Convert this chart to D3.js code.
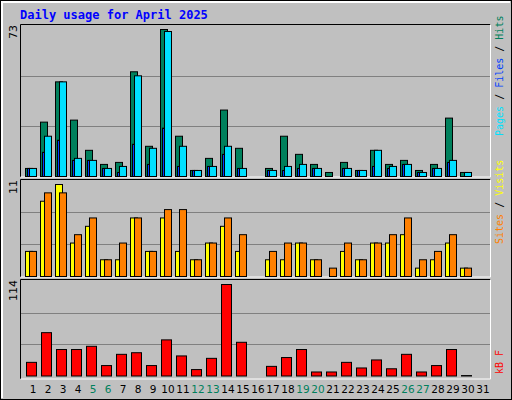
<!DOCTYPE html>
<html><head><meta charset="utf-8">
<script src="https://cdn.jsdelivr.net/npm/d3@7"></script>
<style>body{margin:0;background:#fff}</style></head><body>
<script>
const days = d3.range(1,32).map(String);
const weekend = [5,6,12,13,19,20,26,27];
const hits  = [4,27,47,28,13,6,7,52,15,73,20,3,9,33,14,0,4,20,11,6,2,7,3,13,6,8,3,6,29,2,0];
const files = [4,20,47,9,8,4,5,50,14,72,15,3,5,15,4,0,3,5,6,4,0,4,3,13,5,6,2,4,8,2,0];
const pages = [4,12,18,8,8,4,2,16,6,24,5,3,5,11,4,0,3,3,4,4,0,4,3,5,4,6,2,4,7,0,0];
const visits= [3,9,11,4,6,2,2,7,3,7,3,2,4,6,3,0,2,2,4,2,0,3,2,4,4,5,1,2,4,1,0];
const sites = [3,10,10,5,7,2,4,7,3,8,8,2,4,7,5,0,3,4,4,2,1,4,2,4,5,7,2,3,5,1,0];
const kbytes= [17,54,33,33,37,13,27,29,13,45,25,8,22,114,42,0,12,23,33,5,5,17,10,20,9,27,5,13,33,0.5,0];
const maxLabels = ["73","11","114"];

const W=512,H=400;
const svg=d3.select("body").append("svg").attr("width",W).attr("height",H);
svg.append("rect").attr("x",0).attr("y",0).attr("width",W).attr("height",H).attr("fill","#c0c0c0");
svg.append("rect").attr("x",0.5).attr("y",0.5).attr("width",W-1).attr("height",H-1).attr("fill","none").attr("stroke","#000");
svg.append("path").attr("d",`M2,${H-2}V2H${W-2}`).attr("stroke","#fff").attr("stroke-width",2).attr("fill","none");
svg.append("text").attr("x",20).attr("y",19).text("Daily usage for April 2025")
  .attr("font-family","DejaVu Sans Mono").attr("font-weight","bold").attr("font-size",12).attr("fill","#0000ff");

const x=d3.scaleBand().domain(days).range([26,26+31*15]);
const L=20.5,R=490.5;
const panels=[{t:24,b:177},{t:179,b:277},{t:279,b:379}];
panels.forEach(p=>{
  svg.append("path").attr("d",`M${L},${p.b}V${p.t+0.5}H${R}`).attr("stroke","#000").attr("fill","none");
  svg.append("path").attr("d",`M${R},${p.t+0.5}V${p.b}H${L}`).attr("stroke","#fff").attr("fill","none");
});
function grid(y0,y1){[1/3,2/3].forEach(f=>{const y=Math.round(y0-(y0-y1)*f)+0.5;
  svg.append("line").attr("x1",L+0.5).attr("x2",R-0.5).attr("y1",y).attr("y2",y).attr("stroke","#808080");});}

function bars(data,scale,dx,w,color){
  const pts=data.map((v,i)=>({v,day:days[i]})).filter(p=>p.v>0);
  svg.append("g").selectAll("rect").data(pts).join("rect")
   .attr("x",p=>x(p.day)+dx+0.5).attr("width",w)
   .attr("y",p=>scale(p.v)+0.5).attr("height",p=>Math.max(0,scale(0)-scale(p.v)))
   .attr("fill",p=>typeof color==="function"?color(p.v):color).attr("stroke","#000");
}
// top panel
const y1=d3.scaleLinear().domain([0,73]).range([176,29]);
grid(176.7,25);
bars(hits,y1,-1,7,"#00805c");
bars(files,y1,3,7,"#00e0ff");
bars(pages,y1,1,2,"#0040ff");
// middle
const y2=d3.scaleLinear().domain([0,11]).range([276,184]);
grid(276,180);
bars(visits,y2,-1,7,"#ffff00");
bars(sites,y2,3,7,"#ff8000");
// bottom
const y3=d3.scaleLinear().domain([0,114]).range([375.5,284]);
grid(376,281);
bars(kbytes,y3,0,10,v=>v<1?"#000":"#ff0000");

// day labels
svg.append("g").selectAll("text").data(days).join("text")
  .attr("x",d=>x(d)+7).attr("y",393).attr("text-anchor","middle")
  .attr("font-family","DejaVu Sans").attr("font-size",10.5)
  .attr("fill",d=>weekend.includes(+d)?"#00805c":"#000").text(d=>d);

// left max labels
const ly=[[17,24],[17,179],[17,279]];
maxLabels.forEach((t,i)=>{
  svg.append("text").attr("transform",`translate(${ly[i][0]},${ly[i][1]+1}) rotate(-90)`)
   .attr("text-anchor","end").attr("font-family","DejaVu Sans").attr("font-size",11).text(t);
});
// right labels
function rlabel(y,parts){
  const t=svg.append("text").attr("transform",`translate(503,${y}) rotate(-90)`)
   .attr("text-anchor","start").attr("font-family","DejaVu Sans Mono").attr("font-size",10);
  parts.forEach(p=>t.append("tspan").attr("fill",p[1]).text(p[0]));
}
rlabel(136,[["Pages","#00e0ff"],[" / ","#000"],["Files","#0040ff"],[" / ","#000"],["Hits","#00805c"]]);
rlabel(244,[["Sites","#ff8000"],[" / ","#000"],["Visits","#ffff00"]]);
rlabel(374,[["kB F","#ff0000"]]);
</script></body></html>
